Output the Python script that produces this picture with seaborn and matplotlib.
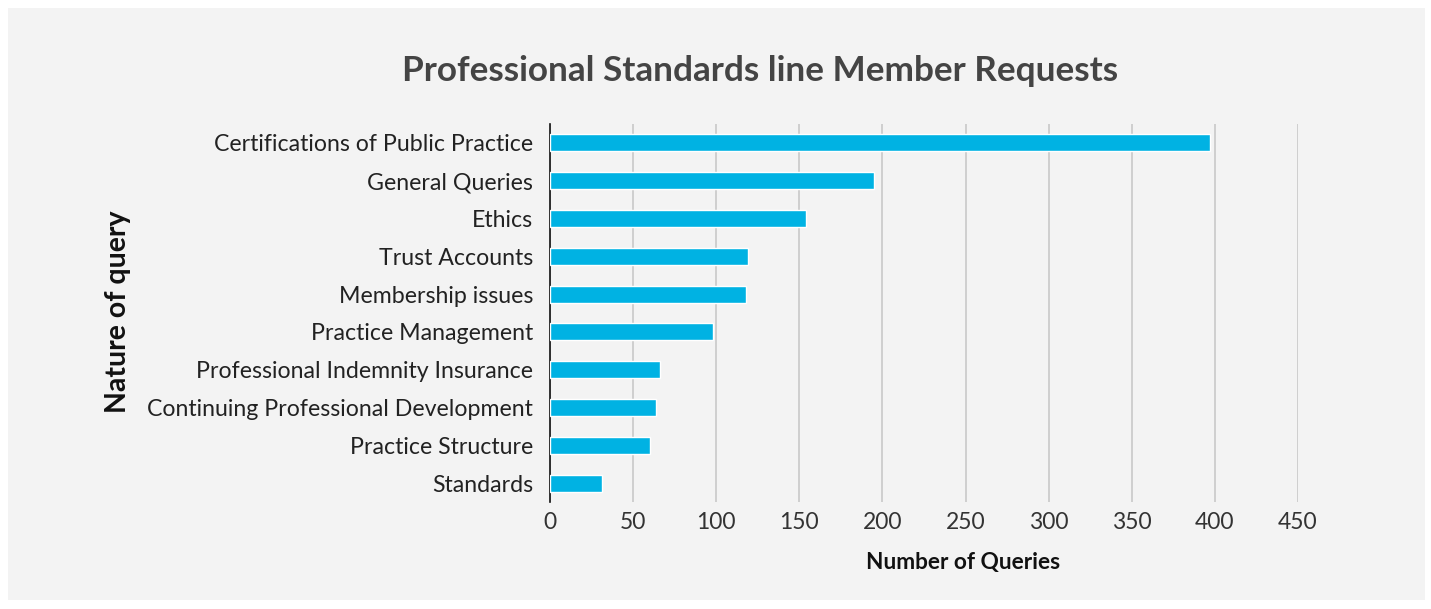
import matplotlib
matplotlib.use("Agg")
import matplotlib.pyplot as plt
import seaborn as sns
import pandas as pd
from matplotlib.patches import Rectangle

categories = [
    "Certifications of Public Practice",
    "General Queries",
    "Ethics",
    "Trust Accounts",
    "Membership issues",
    "Practice Management",
    "Professional Indemnity Insurance",
    "Continuing Professional Development",
    "Practice Structure",
    "Standards",
]
values = [397, 195, 154, 119, 118, 98, 66, 64, 60, 31]
x_ticks = [0, 50, 100, 150, 200, 250, 300, 350, 400, 450]

df = pd.DataFrame({"category": categories, "value": values})

sns.set_theme(style="white")
plt.rcParams["font.family"] = ["Lato", "DejaVu Sans"]

BG = "#f3f3f3"
BAR = "#00b2e3"

fig = plt.figure(figsize=(14.31, 6.09), dpi=100, facecolor="white")
fig.patches.append(Rectangle((8 / 1431, 1 - 600 / 609), (1425 - 8) / 1431, (600 - 8) / 609,
                             transform=fig.transFigure, facecolor=BG, edgecolor="none", zorder=-10))

left, right, top, bottom = 550, 1298, 124, 502
ax = fig.add_axes([left / 1431, 1 - bottom / 609, (right - left) / 1431, (bottom - top) / 609])
ax.set_zorder(5)
ax.set_facecolor(BG)

sns.barplot(data=df, y="category", x="value", orient="h", color=BAR, width=0.45,
            saturation=1, ax=ax, zorder=3)

ax.set_xlim(0, 450)
ax.set_xticks(x_ticks)
ax.set_xticklabels([str(t) for t in x_ticks], fontsize=16.5, color="#333333")
ax.tick_params(axis="y", labelsize=16.7, labelcolor="#222222", length=0, pad=12)
ax.tick_params(axis="x", length=0, pad=7)
ax.xaxis.grid(True, color="#c8c8c8", linewidth=1.2, zorder=0)
ax.set_axisbelow(True)
for s in ["top", "right", "bottom"]:
    ax.spines[s].set_visible(False)
ax.spines["left"].set_color("#111111")
ax.spines["left"].set_linewidth(1.2)
ax.set_xlabel("")
ax.set_ylabel("")

fig.text(760 / 1431, 1 - 71 / 609, "Professional Standards line Member Requests",
         ha="center", va="center", fontsize=25.3, fontweight="bold", color="#444444")
fig.text(963 / 1431, 1 - 562 / 609, "Number of Queries", ha="center", va="center",
         fontsize=16.3, fontweight="bold", color="#111111")
fig.text(118 / 1431, 1 - 312 / 609, "Nature of query", ha="center", va="center",
         rotation=90, fontsize=20.5, fontweight="bold", color="#111111")

fig.savefig("out.png", dpi=100, facecolor="white")
